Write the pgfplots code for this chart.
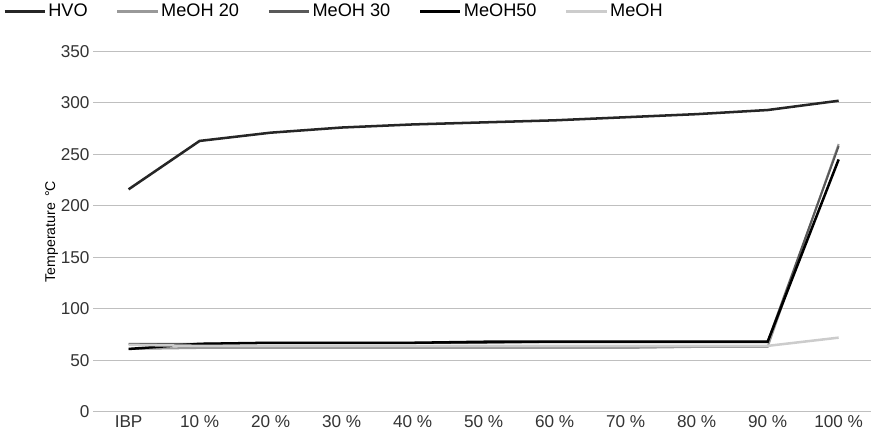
\documentclass[border=0pt]{standalone}
\usepackage{pgfplots}
\pgfplotsset{compat=1.18}
\usepackage{fontspec}
\setmainfont{Liberation Sans}
\begin{document}
\begin{tikzpicture}
\begin{axis}[
  width=770pt, height=357pt, scale only axis,
  /pgf/number format/assume math mode=true,
  ymin=0, ymax=350, ytick={0,50,...,350},
  xmin=-0.5, xmax=10.45, xtick={0,...,10},
  xticklabels={IBP,10 \%,20 \%,30 \%,40 \%,50 \%,60 \%,70 \%,80 \%,90 \%,100 \%},
  ymajorgrids, grid style={gray!50, line width=0.8pt},
  axis line style={draw=none}, tick style={draw=none},
  ticklabel style={font=\fontsize{17}{19}\selectfont, text=black!80},
  ylabel={Temperature \,°C}, ylabel style={font=\fontsize{14}{16}\selectfont, xshift=-0pt, yshift=-4pt},
  legend style={at={(-0.12,1.08)}, anchor=south west, draw=none, legend columns=5, fill=none,
    font=\fontsize{18}{20}\selectfont, /tikz/every even column/.append style={column sep=26pt}},
  legend image code/.code={\draw[#1,line width=3pt] (0cm,0cm) -- (1.4cm,0cm);},
  clip=false,
]
\addplot[black!85, line width=2.5pt] coordinates {(0,216)(1,263)(2,271)(3,276)(4,279)(5,281)(6,283)(7,286)(8,289)(9,293)(10,302)};
\addlegendentry{HVO}
\addplot[gray!80, line width=2pt] coordinates {(0,61)(1,62)(2,62)(3,62)(4,62)(5,62)(6,62)(7,62)(8,63)(9,63)(10,260)};
\addlegendentry{MeOH 20}
\addplot[black!65, line width=2pt] coordinates {(0,66)(1,66)(2,67)(3,67)(4,67)(5,67)(6,68)(7,68)(8,68)(9,68)(10,258)};
\addlegendentry{MeOH 30}
\addplot[black, line width=2.5pt] coordinates {(0,61)(1,66)(2,67)(3,67)(4,67)(5,68)(6,68)(7,68)(8,68)(9,68)(10,245)};
\addlegendentry{MeOH50}
\addplot[gray!40, line width=2.5pt] coordinates {(0,65)(1,64)(2,64)(3,64)(4,64)(5,64)(6,64)(7,64)(8,64)(9,64)(10,72)};
\addlegendentry{MeOH}
\end{axis}
\end{tikzpicture}
\end{document}
